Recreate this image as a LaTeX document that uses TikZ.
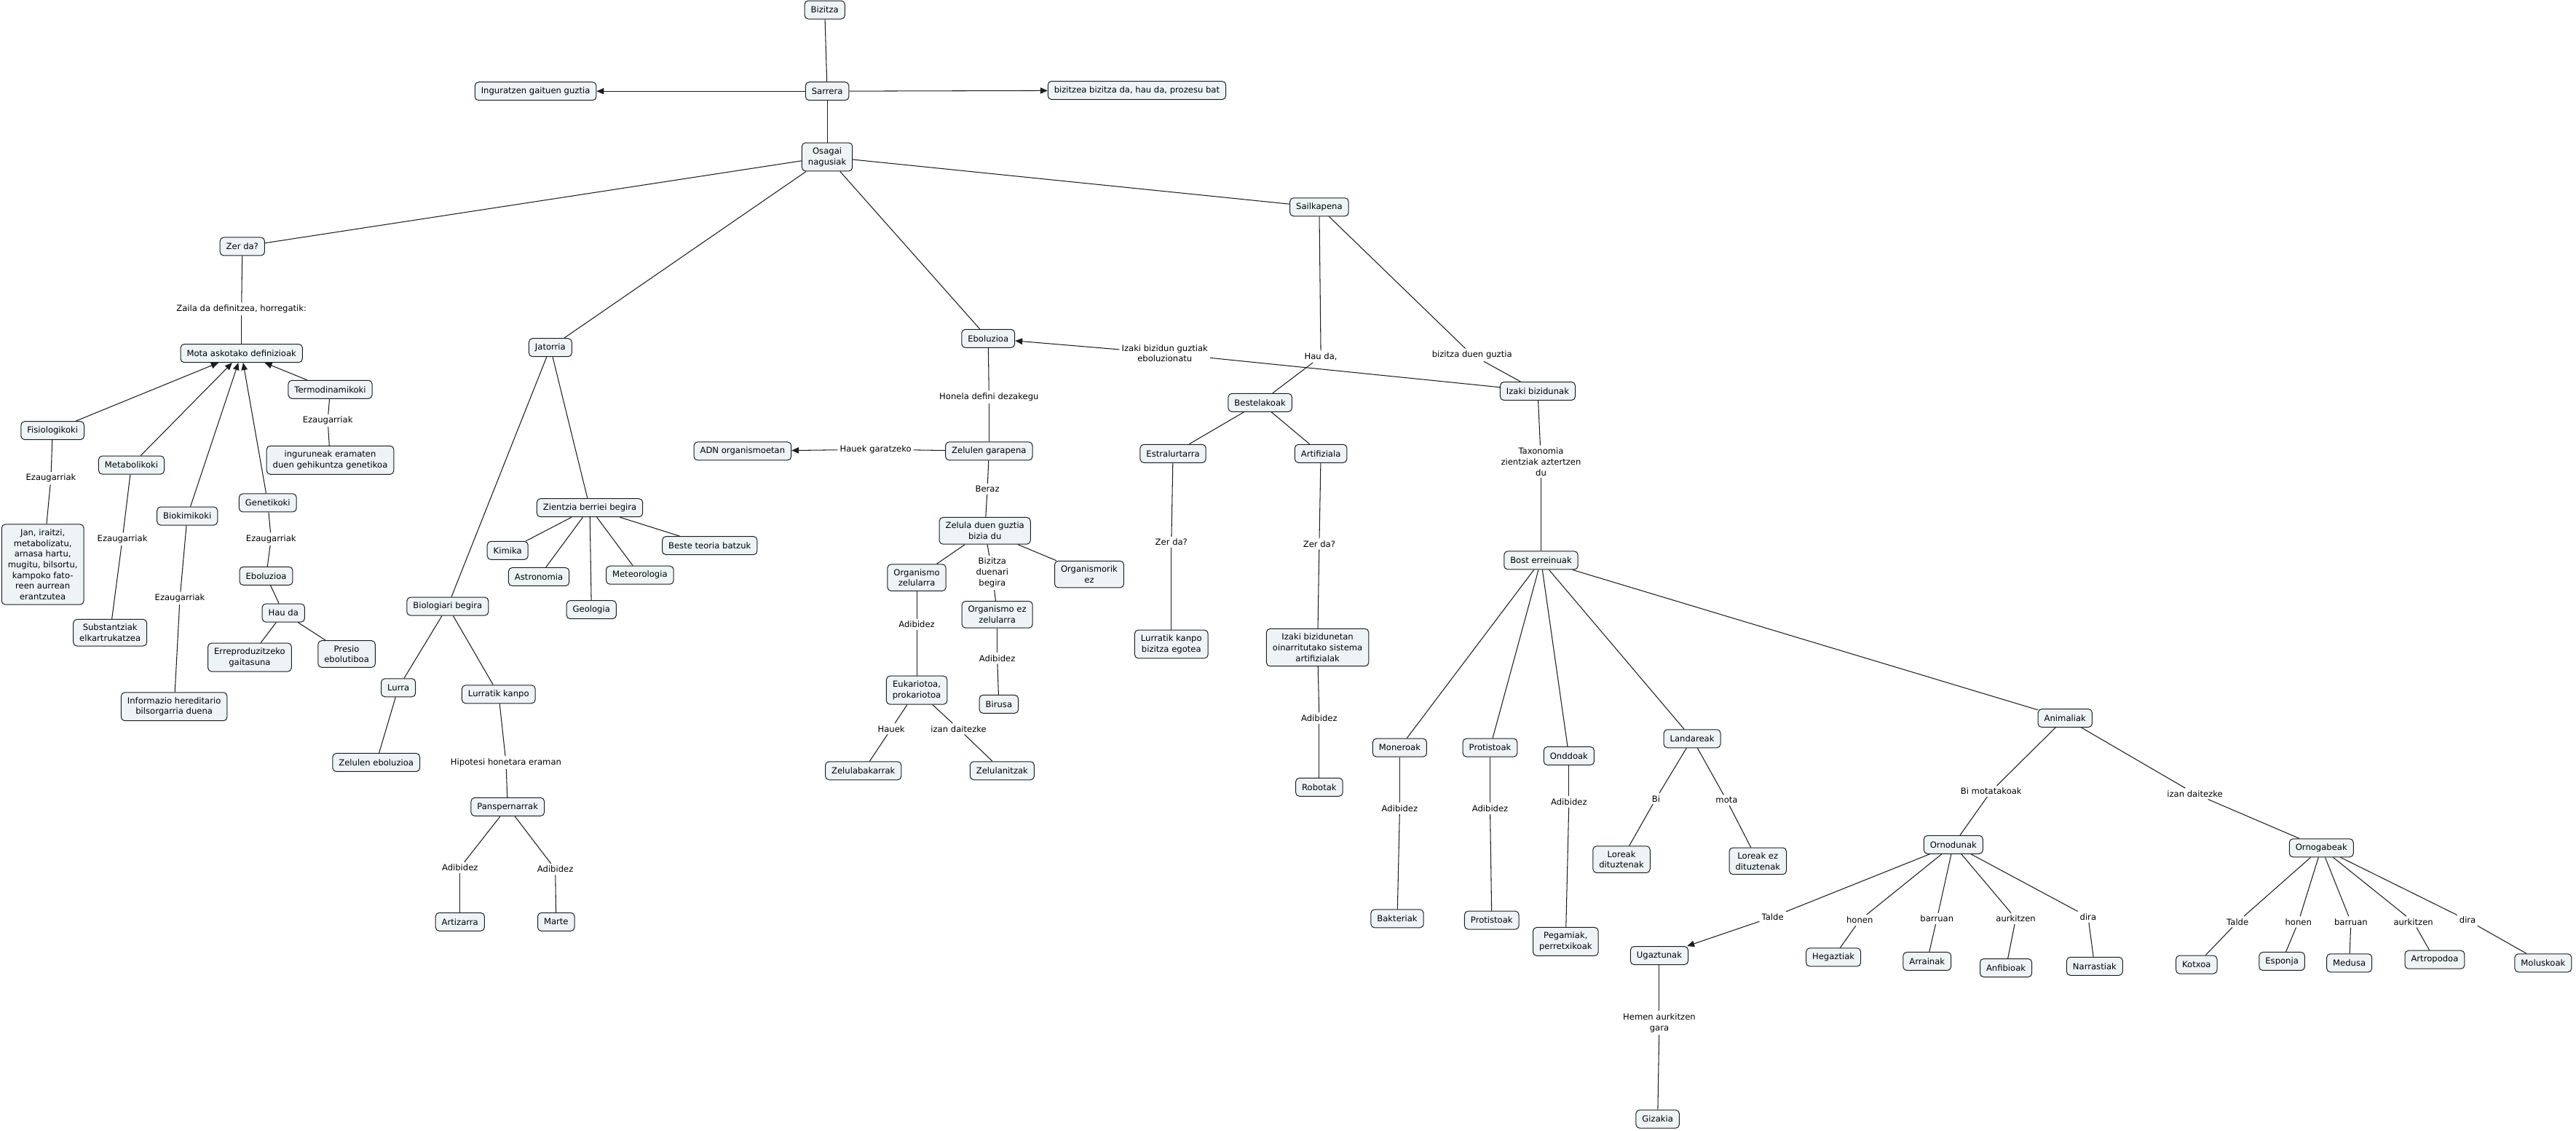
\documentclass[tikz,border=0pt]{standalone}
\usepackage{fontspec}
\setmainfont{DejaVu Sans}
\usetikzlibrary{arrows.meta}
\definecolor{boxfill}{RGB}{238,244,246}
\definecolor{edgecol}{RGB}{30,30,30}
\newcommand\mapfont{\fontsize{11.6}{14.7}\selectfont}
\newcommand\lnk[3]{\draw[con] (#1) -- (#2); \draw[con] (#2) -- (#3);}
\newcommand\lnkA[3]{\draw[con] (#1) -- (#2); \draw[arr] (#2) -- (#3);}
\begin{document}
\begin{tikzpicture}[x=2.2564pt,y=-2.2564pt,
  cbox/.style={draw=edgecol, line width=1pt, rounded corners=5pt, fill=boxfill,
    inner xsep=8.5pt, inner ysep=6.5pt, minimum height=25pt, align=center, font=\mapfont},
  lbl/.style={inner sep=3pt, align=center, font=\mapfont},
  con/.style={line width=1.05pt, draw=edgecol},
  arr/.style={con, -{Triangle[length=10pt,width=8.5pt]}}]
\useasboundingbox (0,0) rectangle (1568,688);
\fill[white] (0,0) rectangle (1568,688);

% top
\node[cbox] (bizitza) at (502,6) {Bizitza};
\node[cbox] (sarrera) at (503.5,55.5) {Sarrera};
\node[cbox] (ingur) at (326,55.5) {Inguratzen gaituen guztia};
\node[cbox] (bizpro) at (692,55) {bizitzea bizitza da, hau da, prozesu bat};
\node[cbox] (osagai) at (503.5,95.5) {Osagai\\nagusiak};

% Zer da?
\node[cbox] (zerda) at (147.5,150) {Zer da?};
\node[lbl] (l-zaila) at (147,188) {Zaila da definitzea, horregatik:};
\node[cbox] (mota) at (147,215) {Mota askotako definizioak};
\node[cbox] (termo) at (201,237) {Termodinamikoki};
\node[lbl] (l-ezT) at (199.5,256) {Ezaugarriak};
\node[cbox] (ingurun) at (201,280) {inguruneak eramaten\\duen gehikuntza genetikoa};
\node[cbox] (fisio) at (32,262) {Fisiologikoki};
\node[lbl] (l-ezF) at (31,291) {Ezaugarriak};
\node[cbox] (jan) at (26,343.5) {Jan, iraitzi,\\metabolizatu,\\arnasa hartu,\\mugitu, bilsortu,\\kampoko fato-\\reen aurrean\\erantzutea};
\node[cbox] (metab) at (80,283) {Metabolikoki};
\node[lbl] (l-ezM) at (74.5,328) {Ezaugarriak};
\node[cbox] (subst) at (67,385) {Substantziak\\elkartrukatzea};
\node[cbox] (biok) at (114,314) {Biokimikoki};
\node[lbl] (l-ezB) at (109.5,364) {Ezaugarriak};
\node[cbox] (infor) at (106,430) {Informazio hereditario\\bilsorgarria duena};
\node[cbox] (genet) at (163,306) {Genetikoki};
\node[lbl] (l-ezG) at (165,328) {Ezaugarriak};
\node[cbox] (ebolL) at (162,350.5) {Eboluzioa};
\node[cbox] (hauda) at (172.5,373) {Hau da};
\node[cbox] (errep) at (152,400) {Erreproduzitzeko\\gaitasuna};
\node[cbox] (presio) at (211,398) {Presio\\ebolutiboa};

% Jatorria
\node[cbox] (jatorria) at (335,211.5) {Jatorria};
\node[cbox] (zientzia) at (359,309) {Zientzia berriei begira};
\node[cbox] (kimika) at (309,335) {Kimika};
\node[cbox] (astro) at (328,351) {Astronomia};
\node[cbox] (geolo) at (360,371) {Geologia};
\node[cbox] (meteo) at (389.5,350) {Meteorologia};
\node[cbox] (beste) at (432,332) {Beste teoria batzuk};
\node[cbox] (biolo) at (272.5,369) {Biologiari begira};
\node[cbox] (lurra) at (242.5,418.5) {Lurra};
\node[cbox] (lkanpo) at (303.5,422.5) {Lurratik kanpo};
\node[cbox] (zelebol) at (229,464) {Zelulen eboluzioa};
\node[lbl] (l-hipo) at (308,464) {Hipotesi honetara eraman};
\node[cbox] (pansp) at (309,491) {Panspernarrak};
\node[lbl] (l-adA) at (280,528) {Adibidez};
\node[lbl] (l-adM) at (338,529) {Adibidez};
\node[cbox] (artiz) at (280,561) {Artizarra};
\node[cbox] (marte) at (338.5,561) {Marte};

% Eboluzioa
\node[cbox] (adn) at (452,274.5) {ADN organismoetan};
\node[lbl] (l-hauekg) at (533,273.5) {Hauek garatzeko};
\node[cbox] (ebolC) at (601.5,206) {Eboluzioa};
\node[lbl] (l-honela) at (602,241.5) {Honela defini dezakegu};
\node[cbox] (zelgar) at (602,274.5) {Zelulen garapena};
\node[lbl] (l-beraz) at (601,297.5) {Beraz};
\node[cbox] (zelula) at (599.5,323) {Zelula duen guztia\\bizia du};
\node[cbox] (orgzel) at (558,351.5) {Organismo\\zelularra};
\node[lbl] (l-bizbeg) at (604,348.5) {Bizitza\\duenari\\begira};
\node[cbox] (orgrik) at (663,349.5) {Organismorik\\ez};
\node[cbox] (orgezz) at (607,374) {Organismo ez\\zelularra};
\node[lbl] (l-adOZ) at (558,380) {Adibidez};
\node[lbl] (l-adOE) at (607,400.5) {Adibidez};
\node[cbox] (eukar) at (558,420) {Eukariotoa,\\prokariotoa};
\node[cbox] (birusa) at (608,428.5) {Birusa};
\node[lbl] (l-hauek) at (542.5,443.5) {Hauek};
\node[lbl] (l-izanE) at (583.5,443.5) {izan daitezke};
\node[cbox] (zelbak) at (525.5,469) {Zelulabakarrak};
\node[cbox] (zelani) at (610,469) {Zelulanitzak};

% Sailkapena
\node[cbox] (sailk) at (803,126) {Sailkapena};
\node[lbl] (l-izakiEb) at (709,215) {Izaki bizidun guztiak\\eboluzionatu};
\node[lbl] (l-hauda) at (804,217) {Hau da,};
\node[lbl] (l-bizdg) at (896,216) {bizitza duen guztia};
\node[cbox] (izakib) at (936,238) {Izaki bizidunak};
\node[cbox] (bestel) at (767,245) {Bestelakoak};
\node[cbox] (estral) at (714,276) {Estralurtarra};
\node[cbox] (artif) at (804,276) {Artifiziala};
\node[lbl] (l-zerE) at (713,330) {Zer da?};
\node[lbl] (l-zerA) at (803,331) {Zer da?};
\node[cbox] (lkbiz) at (713,392) {Lurratik kanpo\\bizitza egotea};
\node[cbox] (izsist) at (802,394) {Izaki bizidunetan\\oinarritutako sistema\\artifizialak};
\node[lbl] (l-adR) at (803,437) {Adibidez};
\node[cbox] (robot) at (803,479) {Robotak};
\node[lbl] (l-taxo) at (938,281) {Taxonomia\\zientziak aztertzen\\du};
\node[cbox] (bost) at (938,341) {Bost erreinuak};
\node[cbox] (moner) at (852,455) {Moneroak};
\node[cbox] (protis) at (907,455) {Protistoak};
\node[cbox] (onddo) at (955,460) {Onddoak};
\node[cbox] (landa) at (1030,449.5) {Landareak};
\node[cbox] (anim) at (1257,437) {Animaliak};
\node[lbl] (l-adMo) at (852,492) {Adibidez};
\node[lbl] (l-adPr) at (907,492) {Adibidez};
\node[lbl] (l-adOn) at (955,488) {Adibidez};
\node[cbox] (bakter) at (850.5,559) {Bakteriak};
\node[cbox] (protis2) at (908,560) {Protistoak};
\node[cbox] (pegam) at (953,573) {Pegamiak,\\perretxikoak};
\node[lbl] (l-bi) at (1008,486) {Bi};
\node[lbl] (l-mota) at (1051,487) {mota};
\node[cbox] (lorea) at (987,523) {Loreak\\dituztenak};
\node[cbox] (loreez) at (1070,524) {Loreak ez\\dituztenak};
\node[lbl] (l-bimota) at (1212,481.5) {Bi motatakoak};
\node[lbl] (l-izanA) at (1336,483) {izan daitezke};
\node[cbox] (ornod) at (1189,514) {Ornodunak};
\node[cbox] (ornog) at (1413,516) {Ornogabeak};
\node[lbl] (l-t1) at (1079,558) {Talde};
\node[lbl] (l-h1) at (1132,560) {honen};
\node[lbl] (l-b1) at (1179,559) {barruan};
\node[lbl] (l-a1) at (1227,559) {aurkitzen};
\node[lbl] (l-d1) at (1271,558) {dira};
\node[cbox] (ugazt) at (1010,581.5) {Ugaztunak};
\node[cbox] (hegaz) at (1116,582.5) {Hegaztiak};
\node[cbox] (arrain) at (1173,585) {Arrainak};
\node[cbox] (anfib) at (1221,589) {Anfibioak};
\node[cbox] (narra) at (1275,588) {Narrastiak};
\node[lbl] (l-hemen) at (1010,622.5) {Hemen aurkitzen\\gara};
\node[cbox] (gizak) at (1009,681) {Gizakia};
\node[lbl] (l-t2) at (1362,561) {Talde};
\node[lbl] (l-h2) at (1399,561) {honen};
\node[lbl] (l-b2) at (1431,561) {barruan};
\node[lbl] (l-a2) at (1469,561) {aurkitzen};
\node[lbl] (l-d2) at (1502,560) {dira};
\node[cbox] (kotx) at (1337,587) {Kotxoa};
\node[cbox] (espon) at (1389,585) {Esponja};
\node[cbox] (medus) at (1430,586) {Medusa};
\node[cbox] (artro) at (1482,584) {Artropodoa};
\node[cbox] (molus) at (1548,586) {Moluskoak};

% connectors
\draw[con] (bizitza) -- (sarrera);
\draw[arr] (sarrera) -- (ingur);
\draw[arr] (sarrera) -- (bizpro);
\draw[con] (sarrera) -- (osagai);
\draw[con] (osagai) -- (zerda);
\draw[con] (osagai) -- (jatorria);
\draw[con] (osagai) -- (ebolC);
\draw[con] (osagai) -- (sailk);

\lnk{zerda}{l-zaila}{mota}
\draw[arr] (termo) -- (mota);
\draw[arr] (fisio) -- (mota);
\draw[arr] (metab) -- (mota);
\draw[arr] (biok) -- (mota);
\draw[arr] (genet) -- (mota);
\lnk{termo}{l-ezT}{ingurun}
\lnk{fisio}{l-ezF}{jan}
\lnk{metab}{l-ezM}{subst}
\lnk{biok}{l-ezB}{infor}
\lnk{genet}{l-ezG}{ebolL}
\draw[con] (ebolL) -- (hauda);
\draw[con] (hauda) -- (errep);
\draw[con] (hauda) -- (presio);

\draw[con] (jatorria) -- (biolo);
\draw[con] (jatorria) -- (zientzia);
\draw[con] (zientzia) -- (kimika);
\draw[con] (zientzia) -- (astro);
\draw[con] (zientzia) -- (geolo);
\draw[con] (zientzia) -- (meteo);
\draw[con] (zientzia) -- (beste);
\draw[con] (biolo) -- (lurra);
\draw[con] (biolo) -- (lkanpo);
\draw[con] (lurra) -- (zelebol);
\lnk{lkanpo}{l-hipo}{pansp}
\lnk{pansp}{l-adA}{artiz}
\lnk{pansp}{l-adM}{marte}

\lnk{ebolC}{l-honela}{zelgar}
\lnkA{zelgar}{l-hauekg}{adn}
\lnk{zelgar}{l-beraz}{zelula}
\draw[con] (zelula) -- (orgzel);
\lnk{zelula}{l-bizbeg}{orgezz}
\draw[con] (zelula) -- (orgrik);
\lnk{orgzel}{l-adOZ}{eukar}
\lnk{orgezz}{l-adOE}{birusa}
\lnk{eukar}{l-hauek}{zelbak}
\lnk{eukar}{l-izanE}{zelani}

\lnk{sailk}{l-hauda}{bestel}
\lnk{sailk}{l-bizdg}{izakib}
\lnkA{izakib}{l-izakiEb}{ebolC}
\draw[con] (bestel) -- (estral);
\draw[con] (bestel) -- (artif);
\lnk{estral}{l-zerE}{lkbiz}
\lnk{artif}{l-zerA}{izsist}
\lnk{izsist}{l-adR}{robot}
\lnk{izakib}{l-taxo}{bost}
\draw[con] (bost) -- (moner);
\draw[con] (bost) -- (protis);
\draw[con] (bost) -- (onddo);
\draw[con] (bost) -- (landa);
\draw[con] (bost) -- (anim);
\lnk{moner}{l-adMo}{bakter}
\lnk{protis}{l-adPr}{protis2}
\lnk{onddo}{l-adOn}{pegam}
\lnk{landa}{l-bi}{lorea}
\lnk{landa}{l-mota}{loreez}
\lnk{anim}{l-bimota}{ornod}
\lnk{anim}{l-izanA}{ornog}
\lnkA{ornod}{l-t1}{ugazt}
\lnk{ornod}{l-h1}{hegaz}
\lnk{ornod}{l-b1}{arrain}
\lnk{ornod}{l-a1}{anfib}
\lnk{ornod}{l-d1}{narra}
\lnk{ugazt}{l-hemen}{gizak}
\lnk{ornog}{l-t2}{kotx}
\lnk{ornog}{l-h2}{espon}
\lnk{ornog}{l-b2}{medus}
\lnk{ornog}{l-a2}{artro}
\lnk{ornog}{l-d2}{molus}
\end{tikzpicture}
\end{document}
